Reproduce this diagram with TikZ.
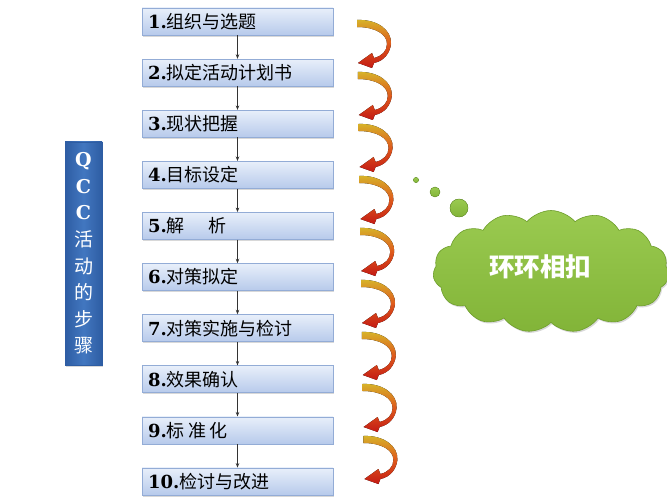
\documentclass[tikz,border=0pt]{standalone}
\usepackage{fontspec}
\setmainfont{Noto Sans CJK SC}
\newfontfamily\numfont{DejaVu Serif}
\usetikzlibrary{shapes.symbols,shadows,arrows.meta}
\definecolor{boxtop}{HTML}{E8EFFA}
\definecolor{boxbot}{HTML}{B7CAEB}
\definecolor{boxline}{HTML}{93ACD6}
\definecolor{sideblue}{HTML}{4277C0}
\definecolor{sidedark}{HTML}{2E5DA3}
\definecolor{cloudtop}{HTML}{9ACA50}
\definecolor{cloudbot}{HTML}{82B438}
\definecolor{cloudline}{HTML}{6E9E2C}
\definecolor{ribgold}{HTML}{D6B52A}
\definecolor{riborange}{HTML}{DE5A1C}
\definecolor{ribred}{HTML}{C41A14}
\newcommand{\stepno}[1]{{\numfont\bfseries #1}}
\begin{document}
\begin{tikzpicture}[x=1pt,y=-1pt,
  stepbox/.style={draw=boxline, line width=0.6pt, top color=boxtop, bottom color=boxbot,
    minimum height=27pt, text width=179pt, inner xsep=6pt, inner ysep=0pt, align=left,
    font=\fontsize{18}{20}\selectfont,
    drop shadow={opacity=0.3, shadow xshift=1.2pt, shadow yshift=-1.6pt}},
  sidebox/.style={draw=sidedark, line width=0.6pt, left color=sidedark, right color=sidedark,
    middle color=sideblue, minimum width=37pt, minimum height=223pt, inner sep=0pt,
    text=white, align=center, font=\fontsize{19}{26.6}\selectfont,
    drop shadow={opacity=0.3, shadow xshift=1.2pt, shadow yshift=-1.6pt}},
  flow/.style={draw=black!80, line width=0.7pt, -{Stealth[length=4.5pt,width=3.5pt]}},
  ribbon/.style={top color=ribgold, bottom color=ribred, middle color=riborange},
  bubble/.style={top color=cloudtop, bottom color=cloudbot, draw=cloudline, line width=0.4pt},
]
\fill[white] (0,0) rectangle (667,500);
\useasboundingbox (0,0) rectangle (667,500);

% step boxes
\node[stepbox] (b1)  at (237.5,21.5)  {\stepno{1.}组织与选题};
\node[stepbox] (b2)  at (237.5,72.6)  {\stepno{2.}拟定活动计划书};
\node[stepbox] (b3)  at (237.5,123.7) {\stepno{3.}现状把握};
\node[stepbox] (b4)  at (237.5,174.8) {\stepno{4.}目标设定};
\node[stepbox] (b5)  at (237.5,225.9) {\stepno{5.}解\hspace{1.3em}析};
\node[stepbox] (b6)  at (237.5,277.0) {\stepno{6.}对策拟定};
\node[stepbox] (b7)  at (237.5,328.1) {\stepno{7.}对策实施与检讨};
\node[stepbox] (b8)  at (237.5,379.2) {\stepno{8.}效果确认};
\node[stepbox] (b9)  at (237.5,430.3) {\stepno{9.}标\hspace{0.2em}准\hspace{0.2em}化};
\node[stepbox] (b10) at (237.5,481.4) {\stepno{10.}检讨与改进};

\foreach \a/\b in {b1/b2,b2/b3,b3/b4,b4/b5,b5/b6,b6/b7,b7/b8,b8/b9,b9/b10}
  \draw[flow] (\a.south) -- (\b.north);

% side label
\node[sidebox] (side) at (83.5,253.5)
  {\stepno{Q}\\\stepno{C}\\\stepno{C}\\活\\动\\的\\步\\骤};

% curved ribbon arrows
\foreach \i in {0,...,8} {
  \begin{scope}[shift={(357+0.8*\i,20+52*\i)}]
    \fill[ribbon] (0,0) .. controls (20,-1) and (35,10) .. (34,24)
      .. controls (33,33) and (27,41) .. (17,43) -- (15,48) -- (1,43) -- (15,33) -- (17,38)
      .. controls (25,36) and (30,31) .. (30,24)
      .. controls (30,14) and (18,7) .. (0,7) -- cycle;
  \end{scope}
}

% thought bubbles and cloud
\fill[bubble] (416,180) circle (2.6);
\fill[bubble] (435,192) circle (5);
\fill[bubble] (459,208) circle (9);
\node[cloud, cloud puffs=15, cloud puff arc=100, aspect=2.1, minimum width=236pt, minimum height=122pt,
  inner sep=0pt, top color=cloudtop, bottom color=cloudbot, draw=cloudline, line width=0.6pt,
  drop shadow={opacity=0.3, shadow xshift=1.2pt, shadow yshift=-1.6pt}] (cloud) at (551,271.5) {};
\node[text=white, font=\fontsize{25.5}{28}\selectfont\bfseries] (ctext) at (540,267) {环环相扣};
\end{tikzpicture}
\end{document}
